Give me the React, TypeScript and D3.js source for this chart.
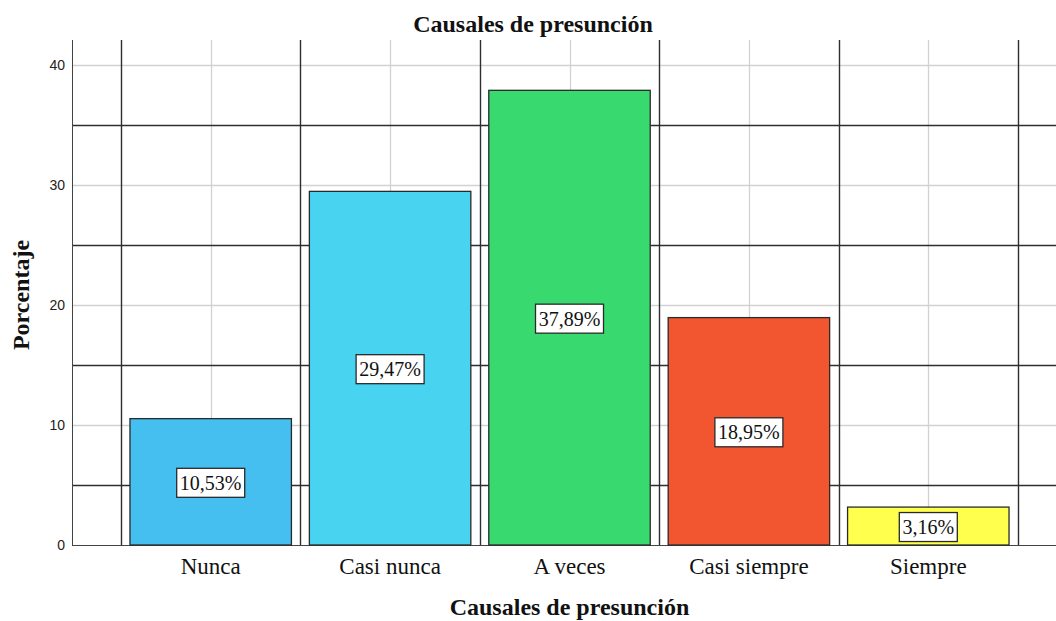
import React from "react";
import * as d3 from "d3";

const categories = ["Nunca", "Casi nunca", "A veces", "Casi siempre", "Siempre"];
const percentages = [10.53, 29.47, 37.89, 18.95, 3.16];
const barColors = ["#45BEF0", "#48D4F1", "#38DA70", "#F25630", "#FFFF4D"];
const yTicks = [0, 10, 20, 30, 40];
const yMidLines = [5, 15, 25, 35];
const chartTitle = "Causales de presunción";
const xTitle = "Causales de presunción";
const yTitle = "Porcentaje";

const W = 1056;
const H = 621;
const plotLeft = 72;
const plotTop = 40;
const plotBottom = 545;
const bandLeft = 121;
const bandRight = 1018;

export default function App() {
  const y = d3.scaleLinear().domain([0, 40]).range([plotBottom, plotBottom - 480]);
  const x = d3
    .scaleBand<string>()
    .domain(categories)
    .range([bandLeft, bandRight])
    .paddingInner(0.1)
    .paddingOuter(0.05);
  const step = x.step();
  const bw = x.bandwidth();
  const gap = (step - bw) / 2;
  const boundaries = categories.map((c) => (x(c) as number) - gap);
  boundaries.push(boundaries[boundaries.length - 1] + step);
  const fmt = (v: number) => v.toFixed(2).replace(".", ",") + "%";
  const serif = "'Liberation Serif', 'Times New Roman', serif";
  const sans = "'Liberation Sans', Arial, sans-serif";

  return (
    <svg
      width={W}
      height={H}
      style={{ position: "fixed", left: 0, top: 0, background: "#fff" }}
    >
      <rect x={0} y={0} width={W} height={H} fill="#fff" />
      {/* grey gridlines at ticks */}
      {yTicks.filter((t) => t > 0).map((t) => (
        <line key={"g" + t} x1={plotLeft} x2={W} y1={Math.round(y(t)) + 0.5} y2={Math.round(y(t)) + 0.5} stroke="#d2d2d2" strokeWidth={1.3} />
      ))}
      {categories.map((c) => {
        const cx = Math.round((x(c) as number) + bw / 2) + 0.5;
        return <line key={"vg" + c} x1={cx} x2={cx} y1={plotTop} y2={plotBottom} stroke="#d2d2d2" strokeWidth={1.3} />;
      })}
      {/* dark midlines */}
      {yMidLines.map((t) => (
        <line key={"m" + t} x1={plotLeft} x2={W} y1={Math.round(y(t)) + 0.5} y2={Math.round(y(t)) + 0.5} stroke="#2e2e2e" strokeWidth={1.4} />
      ))}
      {boundaries.map((b, i) => {
        const bx = Math.round(b) + 0.5;
        return <line key={"vb" + i} x1={bx} x2={bx} y1={plotTop} y2={plotBottom} stroke="#2e2e2e" strokeWidth={1.4} />;
      })}
      {/* axes */}
      <line x1={plotLeft + 0.5} x2={plotLeft + 0.5} y1={plotTop} y2={plotBottom} stroke="#444" strokeWidth={1} />
      <line x1={plotLeft} x2={W} y1={plotBottom + 0.5} y2={plotBottom + 0.5} stroke="#444" strokeWidth={1} />
      {/* bars */}
      {categories.map((c, i) => {
        const x0 = x(c) as number;
        const top = y(percentages[i]);
        return (
          <rect
            key={"b" + c}
            x={x0}
            y={top}
            width={bw}
            height={plotBottom - top}
            fill={barColors[i]}
            stroke="#2a2a2a"
            strokeWidth={1.3}
          />
        );
      })}
      {/* value labels */}
      {categories.map((c, i) => {
        const cx = (x(c) as number) + bw / 2;
        const cy = (y(percentages[i]) + plotBottom) / 2 + 1;
        const label = fmt(percentages[i]);
        const bwid = label.length * 10 + 8;
        return (
          <g key={"l" + c}>
            <rect x={cx - bwid / 2} y={cy - 14.5} width={bwid} height={29} fill="#fff" stroke="#2a2a2a" strokeWidth={1.3} />
            <text x={cx} y={cy + 7} textAnchor="middle" fontFamily={serif} fontSize={20} fill="#111">
              {label}
            </text>
          </g>
        );
      })}
      {/* y tick labels */}
      {yTicks.map((t) => (
        <text key={"t" + t} x={65} y={y(t) + 5} textAnchor="end" fontFamily={sans} fontSize={14} fill="#222">
          {t}
        </text>
      ))}
      {/* category labels */}
      {categories.map((c) => (
        <text key={"c" + c} x={(x(c) as number) + bw / 2} y={574} textAnchor="middle" fontFamily={serif} fontSize={23} fill="#111">
          {c}
        </text>
      ))}
      <text x={533} y={32} textAnchor="middle" fontFamily={serif} fontWeight="bold" fontSize={24} fill="#111">
        {chartTitle}
      </text>
      <text x={(bandLeft + bandRight) / 2} y={615} textAnchor="middle" fontFamily={serif} fontWeight="bold" fontSize={24} fill="#111">
        {xTitle}
      </text>
      <text
        transform={`translate(29, 295) rotate(-90)`}
        textAnchor="middle"
        fontFamily={serif}
        fontWeight="bold"
        fontSize={24}
        fill="#111"
      >
        {yTitle}
      </text>
    </svg>
  );
}
